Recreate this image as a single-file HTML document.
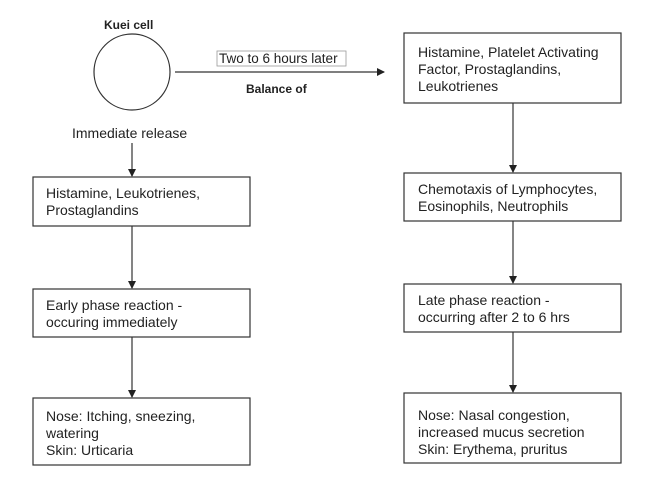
<!DOCTYPE html>
<html><head><style>
body{margin:0;background:#fff;}
svg text{font-family:"Liberation Sans",Arial,sans-serif;font-size:14px;fill:#222;}
</style></head><body>
<svg width="657" height="492" viewBox="0 0 657 492" xmlns="http://www.w3.org/2000/svg">
<defs><marker id="a" markerWidth="8" markerHeight="8" refX="7" refY="4" orient="auto" markerUnits="userSpaceOnUse"><path d="M0,0 L8,4 L0,8 z" fill="#222"/></marker></defs>
<g stroke="#333" stroke-width="1.2" fill="none">
<circle cx="132" cy="72" r="38"/>
<line x1="175" y1="72" x2="384" y2="72" marker-end="url(#a)"/>
<line x1="132" y1="143" x2="132" y2="176" marker-end="url(#a)"/>
<line x1="132" y1="226" x2="132" y2="288" marker-end="url(#a)"/>
<line x1="132" y1="337" x2="132" y2="397" marker-end="url(#a)"/>
<line x1="513" y1="103" x2="513" y2="172" marker-end="url(#a)"/>
<line x1="513" y1="221" x2="513" y2="283" marker-end="url(#a)"/>
<line x1="513" y1="332" x2="513" y2="392" marker-end="url(#a)"/>
<rect x="33" y="177" width="217" height="49"/>
<rect x="33" y="289" width="217" height="48"/>
<rect x="33" y="398" width="217" height="67"/>
<rect x="404" y="33" width="217" height="70"/>
<rect x="404" y="173" width="217" height="48"/>
<rect x="404" y="284" width="217" height="48"/>
<rect x="404" y="393" width="217" height="70"/>
<rect x="217" y="51" width="129" height="15" stroke="#999" stroke-width="0.8"/>
</g>
<text x="104" y="29" font-weight="bold" style="font-size:12px">Kuei cell</text>
<text x="219" y="63" style="font-size:13.5px">Two to 6 hours later</text>
<text x="246" y="93" font-weight="bold" style="font-size:12px">Balance of</text>
<text x="72" y="138">Immediate release</text>
<text x="46" y="198">Histamine, Leukotrienes,</text>
<text x="46" y="215">Prostaglandins</text>
<text x="46" y="310">Early phase reaction -</text>
<text x="46" y="327">occuring immediately</text>
<text x="46" y="421">Nose: Itching, sneezing,</text>
<text x="46" y="438">watering</text>
<text x="46" y="455">Skin: Urticaria</text>
<text x="418" y="57">Histamine, Platelet Activating</text>
<text x="418" y="74">Factor, Prostaglandins,</text>
<text x="418" y="91">Leukotrienes</text>
<text x="418" y="194">Chemotaxis of Lymphocytes,</text>
<text x="418" y="211">Eosinophils, Neutrophils</text>
<text x="418" y="305">Late phase reaction -</text>
<text x="418" y="322">occurring after 2 to 6 hrs</text>
<text x="418" y="420">Nose: Nasal congestion,</text>
<text x="418" y="437">increased mucus secretion</text>
<text x="418" y="454">Skin: Erythema, pruritus</text>
</svg>
</body></html>
